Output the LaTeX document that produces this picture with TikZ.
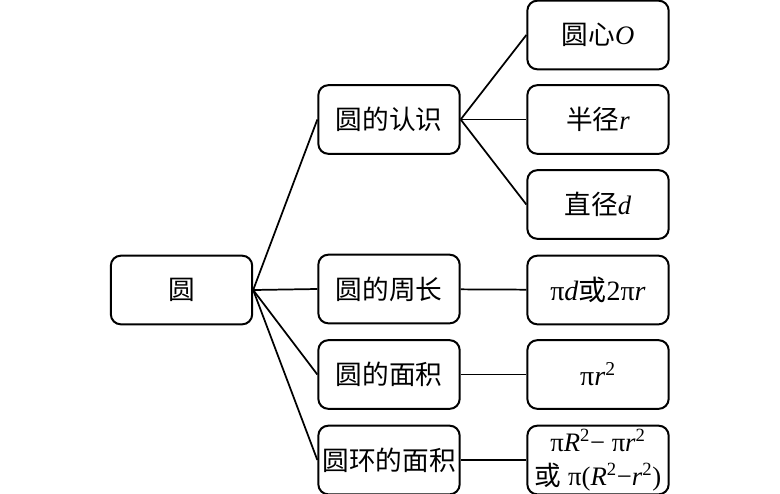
\documentclass[tikz,border=0pt]{standalone}
\usepackage{fontspec}
\setmainfont{Liberation Serif}
\newfontfamily\cjk{Noto Sans CJK SC}
\newcommand{\zh}[1]{{\cjk #1}}
\newcommand{\vi}[1]{\textit{#1}}

\begin{document}
\begin{tikzpicture}[x=0.75pt, y=-0.75pt,
    box/.style={draw, line width=1.5pt, rounded corners=7.5pt,
      minimum width=106pt, minimum height=51.5pt, inner sep=0pt,
      font=\fontsize{20}{25}\selectfont, align=center},
    link/.style={line width=1.3pt}]
  \useasboundingbox (0,0) rectangle (780,493);

  % root and middle column
  \node[box] (yuan) at (181.5,290) {\zh{圆}};
  \node[box] (renshi) at (389,119.5) {\zh{圆的认识}};
  \node[box] (zhouchang) at (389,289) {\zh{圆的周长}};
  \node[box] (mianji) at (389,374.5) {\zh{圆的面积}};
  \node[box] (huan) at (389,460) {\zh{圆环的面积}};

  % right column
  \node[box] (xin) at (598,35) {\zh{圆心}\vi{O}};
  \node[box] (banjing) at (598,119.5) {\zh{半径}\vi{r}};
  \node[box] (zhijing) at (598,204.5) {\zh{直径}\vi{d}};
  \node[box, font=\fontsize{21}{25}\selectfont] (zc) at (598,290) {π\vi{d}\zh{或}2π\vi{r}};
  \node[box, font=\fontsize{21}{25}\selectfont] (mj) at (598,374.5) {π\vi{r}\textsuperscript{2}};
  \node[box, font=\fontsize{20}{26}\selectfont] (hm) at (598,460)
    {π\vi{R}\textsuperscript{2}− π\vi{r}\textsuperscript{2}\\
     \zh{或} π(\vi{R}\textsuperscript{2}−\vi{r}\textsuperscript{2})};

  \foreach \m in {renshi,zhouchang,mianji,huan}
    \draw[link] (yuan.east) -- (\m.west);
  \foreach \r in {xin,banjing,zhijing}
    \draw[link] (renshi.east) -- (\r.west);
  \draw[link] (zhouchang) -- (zc);
  \draw[link] (mianji) -- (mj);
  \draw[link] (huan) -- (hm);
\end{tikzpicture}
\end{document}
